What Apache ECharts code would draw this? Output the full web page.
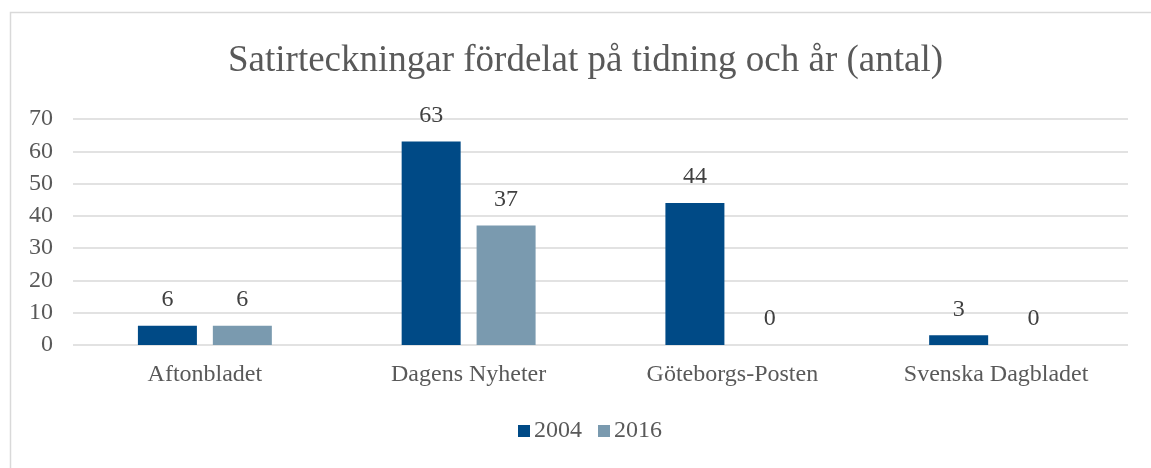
<!DOCTYPE html>
<html>
<head>
    <meta charset="utf-8">
    <title>Satirteckningar</title>
    <style>
        html, body { margin: 0; padding: 0; background: #fff; }
        #container { width: 1151px; height: 468px; }
    </style>
</head>
<body>
<div id="container"></div>
<script src="https://cdn.jsdelivr.net/npm/echarts@6/dist/echarts.min.js"></script>
<script type="text/javascript">
    var categories = ['Aftonbladet', 'Dagens Nyheter', 'Göteborgs-Posten', 'Svenska Dagbladet'];
    var values2004 = [6, 63, 44, 3];
    var values2016 = [6, 37, 0, 0];
    var seriesNames = ['2004', '2016'];

    var font = '"Liberation Serif", "Times New Roman", serif';
    var textColor = '#595959';

    var myChart = echarts.init(document.getElementById('container'));

    var labelStyle = {
        show: true,
        position: 'top',
        distance: 14,
        fontFamily: font,
        fontSize: 24,
        color: '#404040'
    };

    var option = {
        backgroundColor: '#fff',
        animation: false,
        graphic: [{
            type: 'rect',
            shape: { x: 10.5, y: 12.5, width: 1200, height: 500 },
            style: { fill: 'none', stroke: '#d9d9d9', lineWidth: 1.5 }
        }],
        title: {
            text: 'Satirteckningar fördelat på tidning och år (antal)',
            left: 228,
            top: 43,
            padding: 0,
            textStyle: {
                fontFamily: font,
                fontSize: 37,
                fontWeight: 'normal',
                color: textColor
            }
        },
        legend: {
            data: seriesNames,
            bottom: 20,
            left: 513,
            itemWidth: 12,
            itemHeight: 12,
            itemGap: 16,
            icon: 'rect',
            textStyle: { fontFamily: font, fontSize: 24, color: textColor, padding: [0, 0, 0, -1] }
        },
        grid: {
            left: 73,
            right: 23,
            top: 119,
            bottom: 123,
            containLabel: false
        },
        xAxis: {
            type: 'category',
            data: categories,
            axisTick: { show: false },
            axisLine: { show: false },
            axisLabel: { margin: 18, fontFamily: font, fontSize: 24, color: textColor }
        },
        yAxis: {
            type: 'value',
            min: 0,
            max: 70,
            interval: 10,
            axisLine: { show: false },
            axisTick: { show: false },
            splitLine: { lineStyle: { color: '#d9d9d9', width: 1.5 } },
            axisLabel: { margin: 20, fontFamily: font, fontSize: 24, color: textColor }
        },
        series: [
            {
                name: seriesNames[0],
                type: 'bar',
                data: values2004,
                barWidth: 59,
                barGap: '27%',
                itemStyle: { color: '#004a86' },
                label: labelStyle
            },
            {
                name: seriesNames[1],
                type: 'bar',
                data: values2016,
                barWidth: 59,
                barGap: '27%',
                itemStyle: { color: '#7a9aaf' },
                label: labelStyle
            }
        ]
    };

    myChart.setOption(option);
</script>
</body>
</html>
